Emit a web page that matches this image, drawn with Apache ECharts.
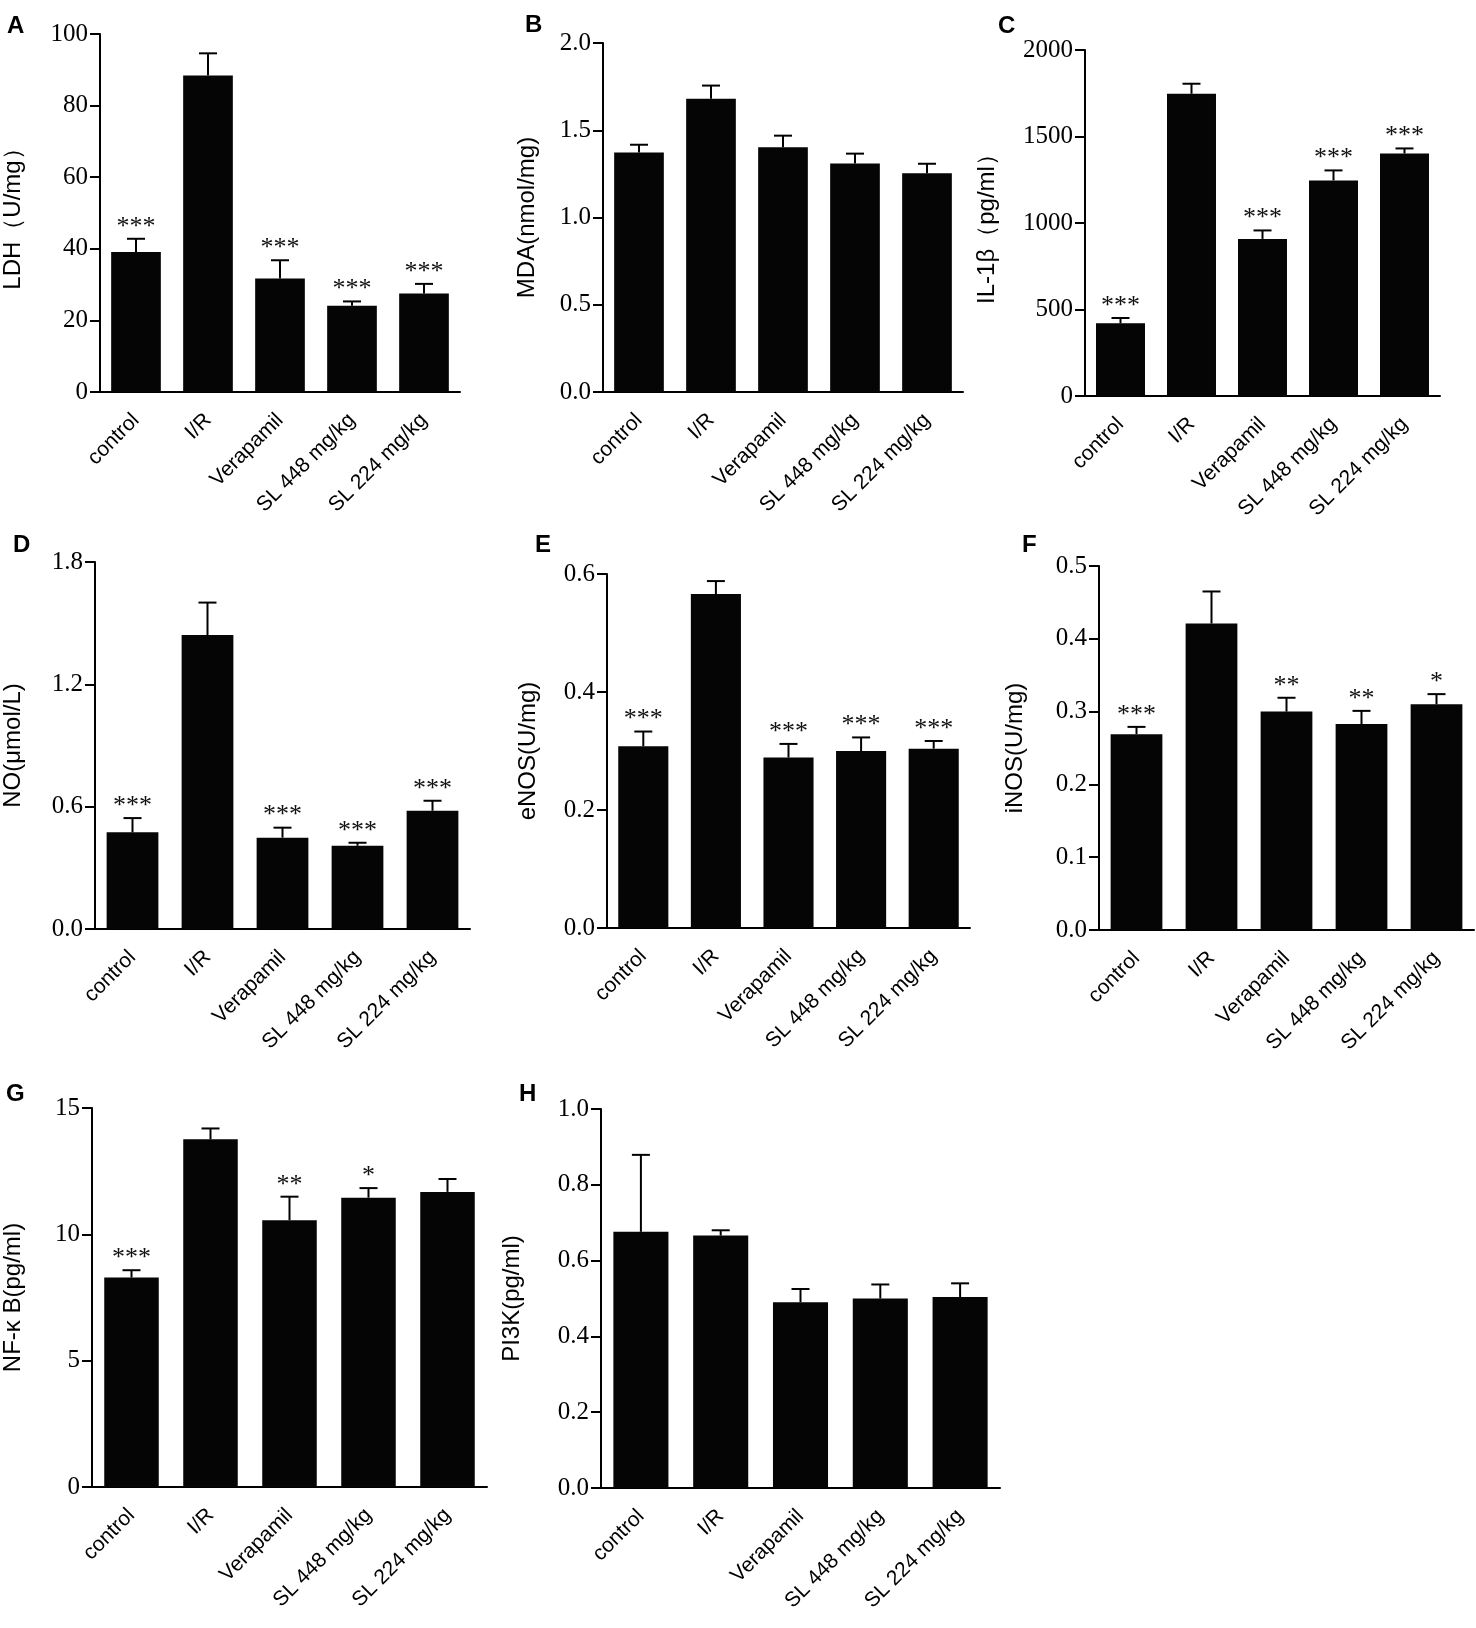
<!DOCTYPE html>
<html>
<head>
<meta charset="utf-8">
<script src="https://cdn.jsdelivr.net/npm/echarts@6/dist/echarts.min.js"></script>
<style>
  html, body { margin: 0; padding: 0; background: #fff; }
  #chart { width: 1476px; height: 1628px; }
</style>
</head>
<body>
<div id="chart"></div>
<script>
// groups on the x axis (same in every panel)
const groups = ['control', 'I/R', 'Verapamil', 'SL 448 mg/kg', 'SL 224 mg/kg'];

// A: LDH
const ldhMean = [39.1, 88.4, 31.7, 24.1, 27.5];
const ldhSd = [3.7, 6.2, 5.1, 1.2, 2.7];
const ldhSig = ['***', '', '***', '***', '***'];

// B: MDA
const mdaMean = [1.373, 1.681, 1.402, 1.310, 1.253];
const mdaSd = [0.044, 0.075, 0.067, 0.056, 0.055];
const mdaSig = ['', '', '', '', ''];

// C: IL-1β
const il1Mean = [420, 1747, 908, 1246, 1402];
const il1Sd = [31, 58, 49, 58, 29];
const il1Sig = ['***', '', '***', '***', '***'];

// D: NO
const noMean = [0.474, 1.442, 0.448, 0.408, 0.580];
const noSd = [0.070, 0.159, 0.049, 0.015, 0.049];
const noSig = ['***', '', '***', '***', '***'];

// E: eNOS
const enosMean = [0.308, 0.566, 0.289, 0.300, 0.304];
const enosSd = [0.025, 0.022, 0.023, 0.023, 0.013];
const enosSig = ['***', '', '***', '***', '***'];

// F: iNOS
const inosMean = [0.269, 0.421, 0.300, 0.283, 0.310];
const inosSd = [0.010, 0.044, 0.019, 0.018, 0.014];
const inosSig = ['***', '', '**', '**', '*'];

// G: NF-κB
const nfkbMean = [8.29, 13.76, 10.56, 11.45, 11.68];
const nfkbSd = [0.29, 0.43, 0.93, 0.38, 0.51];
const nfkbSig = ['***', '', '**', '*', ''];

// H: PI3K
const pi3kMean = [0.676, 0.666, 0.490, 0.500, 0.504];
const pi3kSd = [0.203, 0.014, 0.035, 0.037, 0.036];
const pi3kSig = ['', '', '', '', ''];

// y axis ranges and titles
const yMax = [100, 2.0, 2000, 1.8, 0.6, 0.5, 15, 1.0];
const yStep = [20, 0.5, 500, 0.6, 0.2, 0.1, 5, 0.2];
const yDigits = [0, 1, 0, 1, 1, 1, 0, 1];
const yTitles = ['LDH（U/mg）', 'MDA(nmol/mg)', 'IL-1β（pg/ml）', 'NO(μmol/L)',
  'eNOS(U/mg)', 'iNOS(U/mg)', 'NF-κ B(pg/ml)', 'PI3K(pg/ml)'];
const letters = ['A', 'B', 'C', 'D', 'E', 'F', 'G', 'H'];

const means = [ldhMean, mdaMean, il1Mean, noMean, enosMean, inosMean, nfkbMean, pi3kMean];
const sds = [ldhSd, mdaSd, il1Sd, noSd, enosSd, inosSd, nfkbSd, pi3kSd];
const sigs = [ldhSig, mdaSig, il1Sig, noSig, enosSig, inosSig, nfkbSig, pi3kSig];

// panel layout (pixels)
const grids = [
  { left: 92, top: 34, width: 368, height: 358 },
  { left: 603, top: 43, width: 360, height: 349 },
  { left: 1085, top: 50, width: 355, height: 346 },
  { left: 92, top: 562, width: 378, height: 367 },
  { left: 607, top: 574, width: 363, height: 354 },
  { left: 1099, top: 566, width: 375, height: 364 },
  { left: 87, top: 1108, width: 400, height: 379 },
  { left: 601, top: 1109, width: 399, height: 379 }
];
const nameGaps = [75, 64, 86, 70, 67, 72, 67, 77];
const letterPos = [[7, 14], [525, 13], [998, 14], [13, 533], [535, 533], [1022, 533], [6, 1082], [519, 1082]];

const serif = '"Liberation Serif", "Times New Roman", serif';
const sans = '"Liberation Sans", Arial, sans-serif';

// whisker (upper only) + cap + significance stars
function makeErrRender(sig) {
  return function (params, api) {
    const i = api.value(0);
    const m = api.value(1);
    const sd = api.value(2);
    const base = api.coord([i, m]);
    const top = api.coord([i, m + sd]);
    const children = [
      { type: 'line', shape: { x1: base[0], y1: base[1], x2: top[0], y2: top[1] },
        style: { stroke: '#000', lineWidth: 2 } },
      { type: 'line', shape: { x1: top[0] - 9, y1: top[1], x2: top[0] + 9, y2: top[1] },
        style: { stroke: '#000', lineWidth: 2 } }
    ];
    const s = sig[params.dataIndex];
    if (s) {
      children.push({
        type: 'text',
        style: { x: top[0], y: top[1] - 12, text: s, font: '26px ' + serif,
          fill: '#111', align: 'center', verticalAlign: 'middle' }
      });
    }
    return { type: 'group', children: children };
  };
}

const xAxis = [], yAxis = [], series = [], graphic = [];
grids.forEach(function (g, k) {
  xAxis.push({
    type: 'category', gridIndex: k, data: groups,
    axisLine: { lineStyle: { color: '#000', width: 2 } },
    axisTick: { alignWithLabel: true, length: 10, lineStyle: { color: '#000', width: 2 } },
    axisLabel: { rotate: 45, margin: 25, color: '#000', fontSize: 21, fontFamily: sans, interval: 0 }
  });
  yAxis.push({
    type: 'value', gridIndex: k, min: 0, max: yMax[k], interval: yStep[k],
    name: yTitles[k], nameLocation: 'middle', nameGap: nameGaps[k],
    nameTextStyle: { color: '#000', fontSize: 24, fontFamily: sans },
    axisLine: { show: true, lineStyle: { color: '#000', width: 2 } },
    axisTick: { show: true, length: 10, lineStyle: { color: '#000', width: 2 } },
    splitLine: { show: false },
    axisLabel: { margin: 12, color: '#000', fontSize: 25, fontFamily: serif,
      formatter: function (v) { return v.toFixed(yDigits[k]); } }
  });
  series.push({
    type: 'bar', xAxisIndex: k, yAxisIndex: k, data: means[k],
    barWidth: '69%', itemStyle: { color: '#050505' }, silent: true
  });
  series.push({
    type: 'custom', xAxisIndex: k, yAxisIndex: k, z: 5, silent: true,
    renderItem: makeErrRender(sigs[k]),
    data: means[k].map(function (m, i) { return [i, m, sds[k][i]]; })
  });
  graphic.push({
    type: 'text', left: letterPos[k][0], top: letterPos[k][1],
    style: { text: letters[k], font: 'bold 24px ' + sans, fill: '#000' }
  });
});

const chart = echarts.init(document.getElementById('chart'));
chart.setOption({
  backgroundColor: '#fff',
  animation: false,
  grid: grids,
  xAxis: xAxis,
  yAxis: yAxis,
  series: series,
  graphic: graphic
});
</script>
</body>
</html>
